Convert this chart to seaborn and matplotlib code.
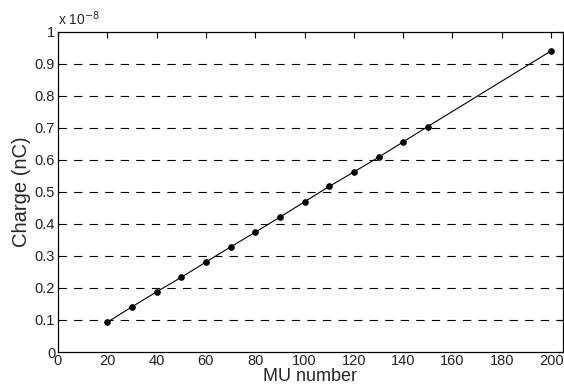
import matplotlib
matplotlib.use("Agg")
import matplotlib.pyplot as plt
import seaborn as sns
import pandas as pd

mu = [20, 30, 40, 50, 60, 70, 80, 90, 100, 110, 120, 130, 140, 150, 200]
charge = [0.093, 0.141, 0.188, 0.233, 0.281, 0.328, 0.374, 0.421, 0.469,
          0.517, 0.562, 0.608, 0.656, 0.704, 0.940]  # x 1e-8
xticks = [0, 20, 40, 60, 80, 100, 120, 140, 160, 180, 200]
yticks = [0, 0.1, 0.2, 0.3, 0.4, 0.5, 0.6, 0.7, 0.8, 0.9, 1]

sns.set_style("white")
plt.rcParams['font.family'] = ['Liberation Sans', 'DejaVu Sans']

df = pd.DataFrame({"MU": mu, "Charge": charge})

fig = plt.figure(figsize=(5.64, 3.89), dpi=100)
bottom_px = 352
ax = fig.add_axes([58 / 564, 1 - bottom_px / 389, (562.7 - 58) / 564, (bottom_px - 31.7) / 389])

for yv in yticks[1:-1]:
    ax.axhline(yv, color="black", lw=0.8, ls=(0, (7.5, 6.5)), zorder=1)

sns.lineplot(data=df, x="MU", y="Charge", ax=ax, color="black", lw=0.8,
             marker="o", markersize=4, markeredgecolor="black", zorder=3)

ax.set_xlim(0, 204.7)
ax.set_ylim(0, 1)
ax.set_xticks(xticks)
ax.set_yticks(yticks)
ax.set_xticklabels([str(v) for v in xticks])
ax.set_yticklabels(["0", "0.1", "0.2", "0.3", "0.4", "0.5", "0.6", "0.7", "0.8", "0.9", "1"])
ax.tick_params(direction="in", top=True, right=True, length=4, width=0.8,
               labelsize=10.5, pad=2, color="black", labelcolor="#222222")
ax.tick_params(axis="x", pad=1.5)
for s in ax.spines.values():
    s.set_visible(True)
    s.set_color("black")
    s.set_linewidth(0.9)

ax.set_xlabel("MU number", fontsize=13, labelpad=0)
ax.set_ylabel("Charge (nC)", fontsize=14.5, labelpad=3)
ax.text(0.0, 1.01, r"x 10$^{-8}$", transform=ax.transAxes, fontsize=10,
        ha="left", va="bottom")

fig.savefig("out.png", dpi=100)
